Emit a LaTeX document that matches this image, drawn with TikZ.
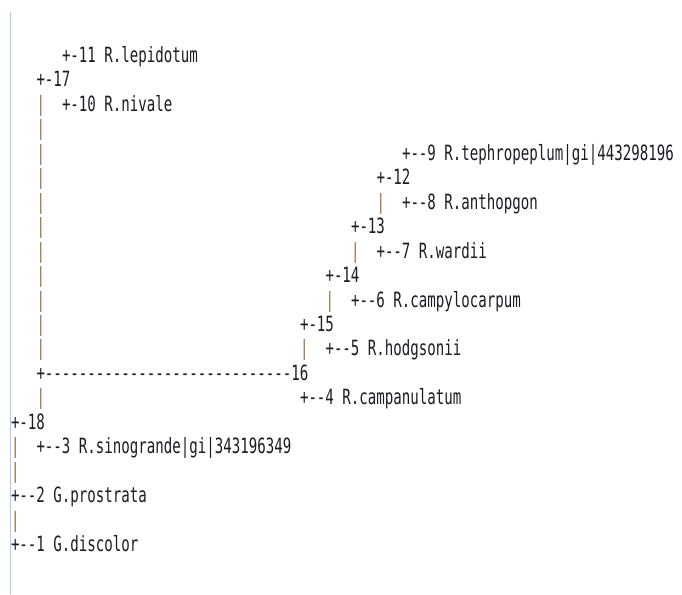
\documentclass[tikz,border=0pt]{standalone}
\usepackage{fontspec}
\setmonofont{DejaVu Sans Mono}[FakeStretch=0.672]
\definecolor{txtc}{RGB}{28,28,38}
\definecolor{pipec}{RGB}{150,108,66}
\definecolor{framec}{RGB}{170,200,238}
\newcommand\tline[4]{\node[tt] (#1) at ({11pt+#2*8.5pt},{-62.5pt-#3*24.45pt}) {#4};}
\newcommand\tpipe[3]{\node[tt,text=pipec] (#1) at ({11pt+#2*8.5pt},{-62.5pt-#3*24.45pt}) {|};}
\tikzset{tt/.style={anchor=base west,inner sep=0pt,outer sep=0pt,text=txtc,font=\ttfamily\fontsize{21}{24}\selectfont}}
\begin{document}
\begin{tikzpicture}
\useasboundingbox (0,0) rectangle (682pt,-594pt);
\fill[white] (0,0) rectangle (682pt,-594pt);
\coordinate (ftop) at (10.5pt,-12pt);
\coordinate (fbot) at (10.5pt,-594pt);
\draw[framec,line width=1.3pt] (ftop) -- (fbot);
% row 0
\tline{n11}{6}{0}{+-11 R.lepidotum}
% row 1
\tline{n17}{3}{1}{+-17}
% row 2
\tpipe{p2}{3}{2}
\tline{n10}{6}{2}{+-10 R.nivale}
% row 3
\tpipe{p3}{3}{3}
% row 4
\tpipe{p4}{3}{4}
\tline{n9}{46}{4}{+--9 R.tephropeplum|gi|443298196}
% row 5
\tpipe{p5}{3}{5}
\tline{n12}{43}{5}{+-12}
% row 6
\tpipe{p6}{3}{6}
\tpipe{p6b}{43}{6}
\tline{n8}{46}{6}{+--8 R.anthopgon}
% row 7
\tpipe{p7}{3}{7}
\tline{n13}{40}{7}{+-13}
% row 8
\tpipe{p8}{3}{8}
\tpipe{p8b}{40}{8}
\tline{n7}{43}{8}{+--7 R.wardii}
% row 9
\tpipe{p9}{3}{9}
\tline{n14}{37}{9}{+-14}
% row 10
\tpipe{p10}{3}{10}
\tpipe{p10b}{37}{10}
\tline{n6}{40}{10}{+--6 R.campylocarpum}
% row 11
\tpipe{p11}{3}{11}
\tline{n15}{34}{11}{+-15}
% row 12
\tpipe{p12}{3}{12}
\tpipe{p12b}{34}{12}
\tline{n5}{37}{12}{+--5 R.hodgsonii}
% row 13
\tline{n16}{3}{13}{+-----------------------------16}
% row 14
\tpipe{p14}{3}{14}
\tline{n4}{34}{14}{+--4 R.campanulatum}
% row 15
\tline{n18}{0}{15}{+-18}
% row 16
\tpipe{p16}{0}{16}
\tline{n3}{3}{16}{+--3 R.sinogrande|gi|343196349}
% row 17
\tpipe{p17}{0}{17}
% row 18
\tline{n2}{0}{18}{+--2 G.prostrata}
% row 19
\tpipe{p19}{0}{19}
% row 20
\tline{n1}{0}{20}{+--1 G.discolor}
\end{tikzpicture}
\end{document}
